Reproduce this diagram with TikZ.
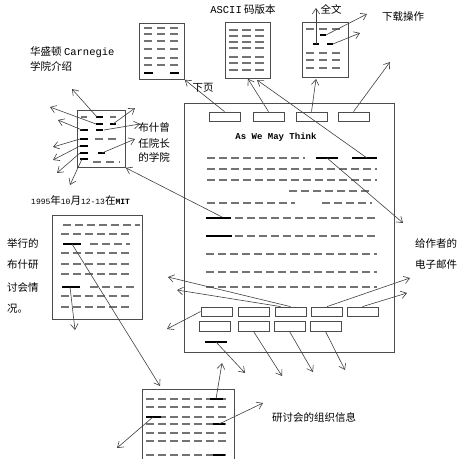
\documentclass[tikz,border=0pt]{standalone}
\usepackage{fontspec}
\newfontfamily\cjk{Noto Sans CJK SC}
\newfontfamily\mono{Liberation Mono}
\usetikzlibrary{arrows.meta,positioning,calc}

\begin{document}
\begin{tikzpicture}[x=1pt,y=-1pt]

  \tikzstyle{every node}=[font=\cjk\fontsize{10.5}{12}\selectfont, inner sep=0pt]

  \tikzset{page/.style={draw=black!70, line width=0.8pt, anchor=north west},
    btn/.style={draw=black!70, line width=0.8pt, minimum width=31pt, minimum height=9pt},
    txt/.style={draw=black!55, line width=1.1pt, dash pattern=on 7.5pt off 4.5pt},
    short/.style={draw=black!55, line width=1.1pt, dash pattern=on 8pt off 5pt},
    hot/.style={line width=2.4pt},
    link/.style={draw=black!75, line width=0.6pt, -{Straight Barb[length=5.5pt,width=7.5pt]}}}

  \useasboundingbox (0,0) rectangle (460,458);

  % Pages
  \node[page, minimum width=210pt, minimum height=249pt] (main page) at (184,103) {};
  \node[page, minimum width=45pt, minimum height=56pt] (next page) at (139,23) {};
  \node[page, minimum width=45pt, minimum height=56pt] (ascii page) at (225,22) {};
  \node[page, minimum width=46pt, minimum height=55pt] (full page) at (302,22) {};
  \node[page, minimum width=48pt, minimum height=57pt] (college page) at (77,110) {};
  \node[page, minimum width=90pt, minimum height=104pt] (meeting page) at (52,215) {};
  \node[page, minimum width=92pt, minimum height=90pt] (info page) at (142,389) {};

  % Buttons of the main page
  \foreach \x [count=\i] in {224.5,268.5,311.5,353.5}
    \node[btn] (top \i) at (\x,116.5) {};
  \foreach \x [count=\i] in {216.5,254,290.5,327,362.5}
    \node[btn] (row a \i) at (\x,311.5) {};
  \foreach \x [count=\i] in {214.5,253.5,289.5,325.5}
    \node[btn, minimum height=10pt] (row b \i) at (\x,326) {};

  \node[font=\mono\bfseries\fontsize{9}{10}\selectfont] (title) at (276,137) {As We May Think};

  % Text of the main page
  \draw[txt] (207,158) -- (305,158);
  \foreach \y in {169,180}
    \draw[txt] (207,\y) -- (377,\y);
  \draw[txt] (289,191) -- (372,191);
  \draw[txt] (207,203) -- (295,203);
  \draw[txt] (322,203) -- (372,203);
  \foreach \y in {218,236}
    \draw[txt] (235,\y) -- (377,\y);
  \foreach \y in {254,272,287}
    \draw[txt] (206,\y) -- (377,\y);
  \draw[hot] (316,158) -- (338,158);
  \draw[hot] (352,158) -- (377,158);
  \draw[hot] (206,218) -- (231,218);
  \draw[hot] (206,236) -- (232,236);
  \draw[hot] (205,342) -- (227,342);

  % Text of the small pages
  \foreach \y in {28,34,41,49,58,65}
    \draw[short] (144,\y) -- (180,\y);
  \draw[hot] (144,73) -- (153,73);
  \draw[hot] (170,73) -- (179,73);
  \foreach \y in {30,36,42,48,57,63,70}
    \draw[short, dash pattern=on 9pt off 4pt] (229,\y) -- (267,\y);
  \draw[short] (306,29) -- (343,29);
  \foreach \y in {53,60,68}
    \draw[short] (306,\y) -- (344,\y);
  \draw[hot] (320,35) -- (326,35);
  \draw[hot] (313,44) -- (319,44);
  \draw[hot] (327,44) -- (333,44);

  % Text of the college page
  \draw[short, dash pattern=on 6pt off 23pt] (81,117) -- (118,117);
  \draw[short] (95,139) -- (120,139);
  \draw[short] (93,162) -- (120,162);
  \foreach \y in {117,124,130}
    \draw[hot] (96,\y) -- (103,\y);
  \draw[hot] (110,124) -- (116,124);
  \draw[hot] (98,153) -- (105,153);
  \foreach \y in {130,139,146,153,159}
    \draw[hot] (80,\y) -- (88,\y);

  % Text of the meeting page
  \draw[txt] (63,225) -- (140,225);
  \foreach \y in {234,253,264,274,296,307}
    \draw[txt] (61,\y) -- (130,\y);
  \draw[txt] (90,244) -- (130,244);
  \draw[txt] (90,287) -- (135,287);
  \draw[hot] (63,244) -- (81,244);
  \draw[hot] (62,287) -- (80,287);

  % Text of the info page
  \foreach \y in {399,407,417,424,433,441,455}
    \draw[txt] (146,\y) -- (229,\y);
  \draw[hot] (210,399) -- (223,399);
  \draw[hot] (146,417) -- (161,417);
  \draw[hot] (213,424) -- (225,424);
  \draw[hot] (213,455) -- (225,455);

  % Free ends of the links
  \coordinate (ascii in) at (257,80);
  \coordinate (full in) at (316,79);
  \coordinate (download) at (390,62);
  \coordinate (mail) at (403,223);
  \coordinate (mail 2) at (410,278);
  \coordinate (mail 3) at (407,293);

  % Links of the main page
  \draw[link] (top 1.north) -- (next page.south east);
  \draw[link] (top 2.north) -- (ascii page.south);
  \draw[link] (367,158) -- (ascii in);
  \draw[link] (top 3.north) -- (full in);
  \draw[link] (top 4.north) -- (download);
  \draw[link] (327,158) -- (mail);
  \draw[link] (222,217) -- (college page.south east);
  \draw[link] (row a 3.north) -- (168,277);
  \draw[link] ($(row a 3.north west)+(6,0)$) -- (177,290);
  \draw[link] (row a 1.west) -- (167,329);
  \draw[link] (row a 4.north) -- (mail 2);
  \draw[link] (row a 5.north) -- (mail 3);
  \draw[link] (row b 2.south) -- (282,376);
  \draw[link] (row b 3.south) -- (313,372);
  \draw[link] (row b 4.south) -- (345,370);
  \draw[link] (216,342) -- (245,373);

  % Links of the small pages
  \draw[link] (316,44) -- (316,8);
  \draw[link] (326,35) -- (367,14);
  \draw[link] (333,44) -- (360,33);
  \draw[link] (97,117) -- (72,89);
  \draw[link] (96,124) -- (50,107);
  \draw[link] (82,130) -- (58,120);
  \draw[link] (113,124) -- (135,108);
  \draw[link] (104,130) -- (140,124);
  \draw[link] (102,153) -- (135,139);
  \draw[link] (80,139) -- (53,147);
  \draw[link] (80,146) -- (53,160);
  \draw[link] (80,153) -- (57,173);
  \draw[link] (82,159) -- (70,185);
  \draw[link] (72,244) -- (160,386);
  \draw[link] (70,287) -- (75,330);
  \draw[link] (216,399) -- (222,363);
  \draw[link] (153,417) -- (117,448);
  \draw[link] (219,424) -- (263,403);

  % Labels
  \node (ascii label) at (243,10) {{\mono ASCII} 码版本};
  \node (full label) at (331,9) {全文};
  \node (download label) at (403,17) {下载操作};
  \node (next label) at (203,88) {下页};
  \node[anchor=west] (carnegie) at (30,52) {华盛顿 {\mono Carnegie}};
  \node[anchor=west] (carnegie 2) at (30,66) {学院介绍};
  \node (bush 1) at (154,127) {布什曾};
  \node (bush 2) at (154,143) {任院长};
  \node (bush 3) at (154,157) {的学院};
  \node[anchor=west] (date) at (31,200)
    {{\mono\fontsize{8}{9}\selectfont 1995}年{\mono\fontsize{8}{9}\selectfont 10}月{\mono\fontsize{8}{9}\selectfont 12-13}在{\mono\bfseries\fontsize{8}{9}\selectfont MIT}};
  \foreach \t/\y [count=\i] in {举行的/243,布什研/265,讨会情/287,况。/309}
    \node[anchor=west] (meeting \i) at (7,\y) {\t};
  \node[anchor=west] (mail label) at (415,243) {给作者的};
  \node[anchor=west] (mail label 2) at (415,265) {电子邮件};
  \node[anchor=west] (info label) at (272,417) {研讨会的组织信息};

\end{tikzpicture}
\end{document}
